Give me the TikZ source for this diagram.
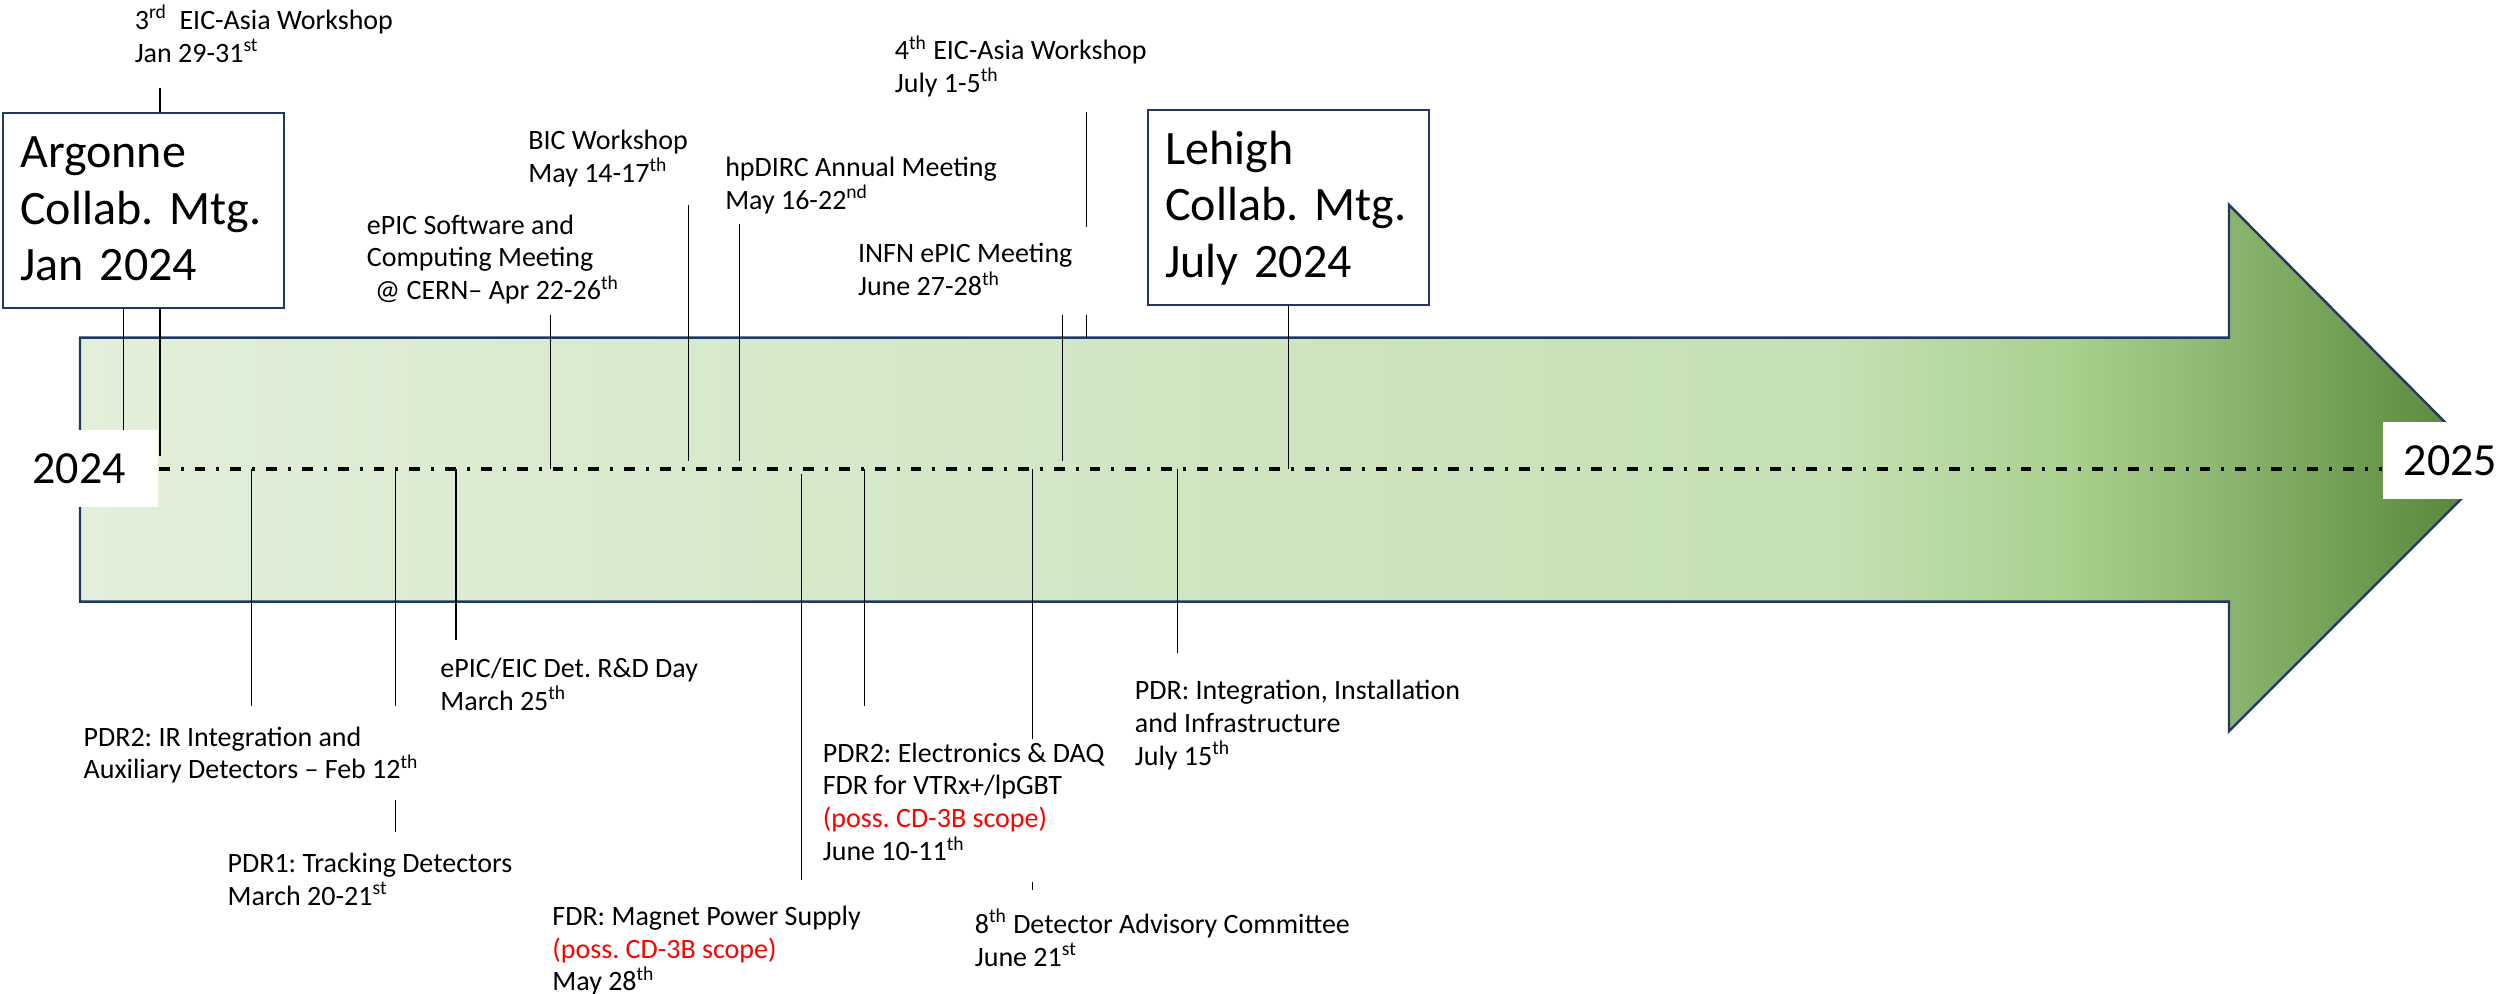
\documentclass[tikz,border=0pt]{standalone}
\usepackage{fontspec}
\setmainfont{Carlito}
\frenchspacing
\definecolor{navy}{RGB}{31,56,100}
\definecolor{gA}{HTML}{E2EFDA}
\definecolor{gB}{HTML}{C5E0B4}
\definecolor{gC}{HTML}{A9D18E}
\definecolor{gD}{HTML}{8FB872}
\definecolor{gE}{HTML}{548235}
\pgfdeclarehorizontalshading{arrowshade}{100bp}{color(0bp)=(gA); color(25bp)=(gA); color(61.5bp)=(gB); color(66.2bp)=(gC); color(69.2bp)=(gD); color(75bp)=(gE); color(100bp)=(gE)}
\begin{document}
\begin{tikzpicture}[x=0.8pt,y=-0.8pt,
  conn/.style={draw=black, line width=0.55pt},
  lbl/.style={anchor=north west, inner sep=0pt, align=left, font=\fontsize{14}{16.4}\selectfont},
  bigbox/.style={draw=navy, line width=0.9pt, fill=white, anchor=north west, inner xsep=8.5pt, inner ysep=0pt, text width=123.4pt, align=left, font=\fontsize{24}{28.4}\selectfont},
  year/.style={fill=white, inner sep=0pt, minimum height=38.4pt, font=\fontsize{23}{27.6}\selectfont},
  axisline/.style={line width=1.8pt, dash pattern=on 5.4pt off 5.5pt on 1.5pt off 5.5pt}]

\fill[white] (0,0) rectangle (1568,621);
\useasboundingbox (0,0) rectangle (1568,621);

% timeline arrow
\shadedraw[shading=arrowshade, draw=navy, line width=1.2pt]
  (50,211) -- (1393,211) -- (1393,128) -- (1557,293) -- (1393,457) -- (1393,376) -- (50,376) -- cycle;

% year labels
\node[year, minimum width=79.2pt] (y2024) at (49.5,293) {2024};
\node[year, minimum width=68pt] (y2025) at (1531.5,288) {2025};

% axis
\draw[axisline] (y2024.east) -- (y2024.east -| y2025.west);

% boxes
\node[bigbox] (argonne) at (1.5,70) {\rule{0pt}{27.2pt}Argonne\\Collab.~Mtg.\\Jan~2024\rule[-13.6pt]{0pt}{13.6pt}};
\node[bigbox] (lehigh) at (717,68) {\rule{0pt}{27.2pt}Lehigh\\Collab.~Mtg.\\July~2024\rule[-13.6pt]{0pt}{13.6pt}};

% labels above
\node[lbl] (eic3) at (84,0.5) {\rule{0pt}{14pt}3\textsuperscript{rd}\ \ EIC-Asia Workshop\\Jan 29-31\textsuperscript{st}};
\node[lbl] (eic4) at (559,19.5) {\rule{0pt}{14pt}4\textsuperscript{th} EIC-Asia Workshop\\July 1-5\textsuperscript{th}};
\node[lbl] (bic) at (330,75.5) {\rule{0pt}{14pt}BIC Workshop\\May 14-17\textsuperscript{th}};
\node[lbl] (hpdirc) at (453,92.5) {\rule{0pt}{14pt}hpDIRC Annual Meeting\\May 16-22\textsuperscript{nd}};
\node[lbl] (epicsw) at (229,128.5) {\rule{0pt}{14pt}ePIC Software and\\Computing Meeting\\\hspace*{0.3em}@ CERN– Apr 22-26\textsuperscript{th}};
\node[lbl] (infn) at (536,146.5) {\rule{0pt}{14pt}INFN ePIC Meeting\\June 27-28\textsuperscript{th}};

% labels below
\node[lbl] (rdday) at (275,405.5) {\rule{0pt}{14pt}ePIC/EIC Det. R\&D Day\\March 25\textsuperscript{th}};
\node[lbl] (pdr2ir) at (52,448.5) {\rule{0pt}{14pt}PDR2: IR Integration and\\Auxiliary Detectors – Feb 12\textsuperscript{th}};
\node[lbl] (pdr1) at (142,527.5) {\rule{0pt}{14pt}PDR1: Tracking Detectors\\March 20-21\textsuperscript{st}};
\node[lbl] (fdrmag) at (345,560.5) {\rule{0pt}{14pt}FDR: Magnet Power Supply\\\textcolor{red}{(poss. CD-3B scope)}\\May 28\textsuperscript{th}};
\node[lbl] (pdr2el) at (514,458.5) {\rule{0pt}{14pt}PDR2: Electronics \& DAQ\\FDR for VTRx+/lpGBT\\\textcolor{red}{(poss. CD-3B scope)}\\June 10-11\textsuperscript{th}};
\node[lbl] (dac8) at (609,565.5) {\rule{0pt}{14pt}8\textsuperscript{th} Detector Advisory Committee\\June 21\textsuperscript{st}};
\node[lbl] (pdrint) at (709,419.5) {\rule{0pt}{14pt}PDR: Integration, Installation\\and Infrastructure\\July 15\textsuperscript{th}};

% connector end points
\coordinate (e3t) at (100,55);
\coordinate (e3b) at (100,285);
\coordinate (argx) at (77,293);
\coordinate (swt) at (344,197);   \coordinate (swb) at (344,293);
\coordinate (bict) at (430,128);  \coordinate (bicb) at (430,288);
\coordinate (hpt) at (462,140);   \coordinate (hpb) at (462,288);
\coordinate (e4t) at (679,70);    \coordinate (e4m) at (679,142);
\coordinate (e4n) at (679,197);   \coordinate (e4b) at (679,211);
\coordinate (inft) at (664,197);  \coordinate (infb) at (664,288);
\coordinate (lhx) at (805,293);
\coordinate (irt) at (157,293);   \coordinate (irb) at (157,441);
\coordinate (p1t) at (247,293);   \coordinate (p1m) at (247,441);
\coordinate (p1n) at (247,500);   \coordinate (p1b) at (247,520);
\coordinate (rdt) at (285,293);   \coordinate (rdb) at (285,400);
\coordinate (fmt) at (501,296);   \coordinate (fmb) at (501,550);
\coordinate (elt) at (540,293);   \coordinate (elb) at (540,441);
\coordinate (dct) at (645,293);   \coordinate (dcm) at (645,462);
\coordinate (dcn) at (645,551);   \coordinate (dcb) at (645,556);
\coordinate (pit) at (736,293);   \coordinate (pib) at (736,408);

% connectors
\draw[conn] (e3t) -- (e3t |- argonne.north);
\draw[conn] (argonne.south -| e3b) -- (e3b);
\draw[conn] (argonne.south -| argx) -- (argx |- y2024.north);
\draw[conn] (swt) -- (swb);
\draw[conn] (bict) -- (bicb);
\draw[conn] (hpt) -- (hpb);
\draw[conn] (e4t) -- (e4m);
\draw[conn] (e4n) -- (e4b);
\draw[conn] (inft) -- (infb);
\draw[conn] (lehigh.south -| lhx) -- (lhx);
\draw[conn] (irt) -- (irb);
\draw[conn] (p1t) -- (p1m);
\draw[conn] (p1n) -- (p1b);
\draw[conn] (rdt) -- (rdb);
\draw[conn] (fmt) -- (fmb);
\draw[conn] (elt) -- (elb);
\draw[conn] (dct) -- (dcm);
\draw[conn] (dcn) -- (dcb);
\draw[conn] (pit) -- (pib);
\end{tikzpicture}
\end{document}
